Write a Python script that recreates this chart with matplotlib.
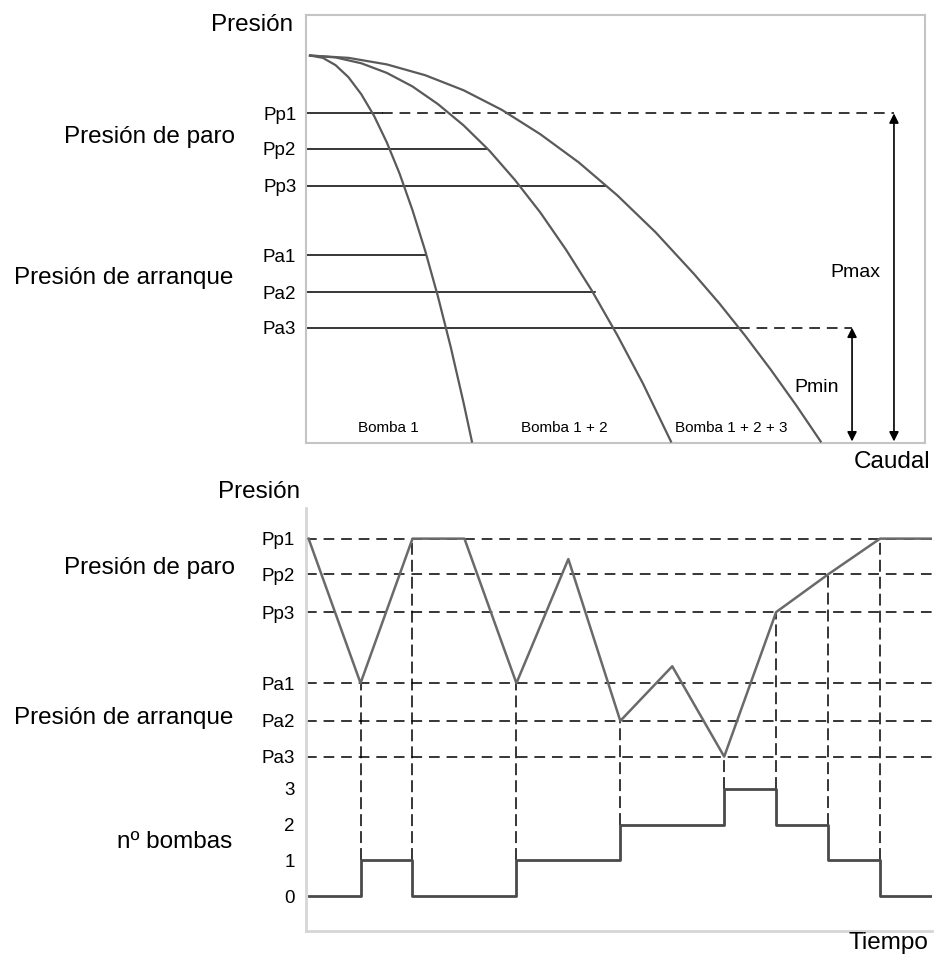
import matplotlib.pyplot as plt

plt.rcParams['font.family'] = ['Liberation Sans', 'DejaVu Sans']

# curvas de las bombas (caudal, presion)
q_b1 = [0, 2, 4, 6, 8, 10, 12, 14, 16, 18, 20, 22, 24, 25.3]
p_b1 = [10, 9.94, 9.75, 9.44, 9.0, 8.44, 7.75, 6.94, 6.0, 4.94, 3.75, 2.44, 1.0, 0.0]
q_b12 = [0, 4, 8, 12, 16, 20, 24, 28, 32, 36, 40, 44, 48, 52, 56.4]
p_b12 = [10, 9.95, 9.8, 9.55, 9.2, 8.74, 8.19, 7.54, 6.78, 5.93, 4.97, 3.92, 2.76, 1.51, 0.0]
q_b123 = [0, 6, 12, 18, 24, 30, 36, 42, 48, 54, 60, 64, 68, 72, 76, 79.8]
p_b123 = [10, 9.94, 9.77, 9.49, 9.1, 8.59, 7.96, 7.23, 6.38, 5.42, 4.34, 3.57, 2.74, 1.86, 0.93, 0.0]
curve_names = ["Bomba 1", "Bomba 1 + 2", "Bomba 1 + 2 + 3"]
curve_label_q = [12.2, 39.8, 65.9]

level_names = ["Pp1", "Pp2", "Pp3", "Pa1", "Pa2", "Pa3"]
level_p = [8.5, 7.59, 6.63, 4.82, 3.86, 2.95]
solid_end = [11.25, 27.7, 46.3, 18.2, 44.5, 67.0]   # corte con su curva
pmax_q = 91.25
pmin_q = 84.7

# evolucion en el tiempo
t = list(range(13))
p_t = [8.5, 4.82, 8.5, 8.5, 4.82, 7.98, 3.86, 5.25, 2.95, 6.63, 7.59, 8.5, 8.5]
n_bombas = [0, 1, 0, 0, 1, 1, 2, 2, 3, 2, 1, 0]
switch_t = [1, 2, 4, 6, 8, 9, 10, 11]
pump_names = ["3", "2", "1", "0"]

W, H = 934, 963
def box(l, t_, r, b):
    return [l / W, 1 - b / H, (r - l) / W, (b - t_) / H]

fig = plt.figure(figsize=(W / 100, H / 100), dpi=100)
ax1 = fig.add_axes(box(306, 15, 925, 443))
ax2 = fig.add_axes(box(306, 508, 932, 931))

# ---- curvas caudal / presion
ax1.set_xlim(-0.625, 96.1)
ax1.set_ylim(-0.04, 11.05)
x0 = ax1.get_xlim()[0]
for q, p in [(q_b1, p_b1), (q_b12, p_b12), (q_b123, p_b123)]:
    ax1.plot(q, p, color="#5a5a5a", lw=1.6, zorder=3, solid_joinstyle="round")
for y, e in zip(level_p, solid_end):
    ax1.plot([x0, e], [y, y], color="k", lw=1.1)
ax1.plot([solid_end[0], pmax_q], [level_p[0]] * 2, color="k", lw=1.1, dashes=(7, 4.5))
ax1.plot([solid_end[5], pmin_q], [level_p[5]] * 2, color="k", lw=1.1, dashes=(7, 4.5))
for xq, ytop in [(pmax_q, level_p[0]), (pmin_q, level_p[5])]:
    ax1.annotate("", xy=(xq, ytop), xytext=(xq, 0),
                 arrowprops=dict(arrowstyle="<|-|>", color="k", lw=1.2,
                                 mutation_scale=14, shrinkA=0, shrinkB=0))
ax1.text(89.1, 4.37, "Pmax", ha="right", va="center", fontsize=14)
ax1.text(82.7, 1.41, "Pmin", ha="right", va="center", fontsize=14)
for name, xq in zip(curve_names, curve_label_q):
    ax1.text(xq, 0.36, name, ha="center", va="center", fontsize=11)

ax1.set_xticks([])
ax1.set_yticks(level_p, level_names)
ax1.tick_params(axis="y", length=0, pad=7, labelsize=13.5)
for s in ax1.spines.values():
    s.set_color("#c4c4c4")
    s.set_linewidth(1.5)

# ---- evolucion temporal
ax2.set_xlim(-0.05, 12.0)
ax2.set_ylim(-1.49, 9.28)
pump_base, pump_step = -0.6, 0.91
pump_y = [pump_base + n * pump_step for n in n_bombas]

for y in level_p:
    ax2.axhline(y, color="k", lw=1.1, dashes=(7, 4.5), zorder=1)
ax2.plot(t, p_t, color="#6a6a6a", lw=1.8, zorder=3)
ax2.step(t, pump_y + [pump_y[-1]], where="post", color="#4a4a4a", lw=2, zorder=3)
for ts in switch_t:
    lo = pump_base + max(n_bombas[ts - 1], n_bombas[ts]) * pump_step
    ax2.plot([ts, ts], [lo, p_t[ts]], color="k", lw=1.1, dashes=(7.8, 3.3), zorder=2)

pump_ticks = [pump_base + n * pump_step for n in (3, 2, 1, 0)]
ax2.set_xticks([])
ax2.set_yticks(level_p + pump_ticks, level_names + pump_names)
ax2.tick_params(axis="y", length=0, pad=8, labelsize=13.5)
for k in ["top", "right"]:
    ax2.spines[k].set_visible(False)
for k in ["left", "bottom"]:
    ax2.spines[k].set_color("#d6d6d6")
    ax2.spines[k].set_linewidth(2)

# ---- rotulos
big = 17.5
def ftext(x, y, s, ha="right"):
    fig.text(x / W, 1 - y / H, s, ha=ha, va="center", fontsize=big)

ftext(293, 25, "Presión")
ftext(235, 137, "Presión de paro")
ftext(233, 278, "Presión de arranque")
ftext(930, 462, "Caudal")
ftext(300, 492, "Presión")
ftext(235, 568, "Presión de paro")
ftext(233, 718, "Presión de arranque")
ftext(232, 842, "nº bombas")
ftext(928, 943, "Tiempo")

fig.savefig("out.png", dpi=100)
